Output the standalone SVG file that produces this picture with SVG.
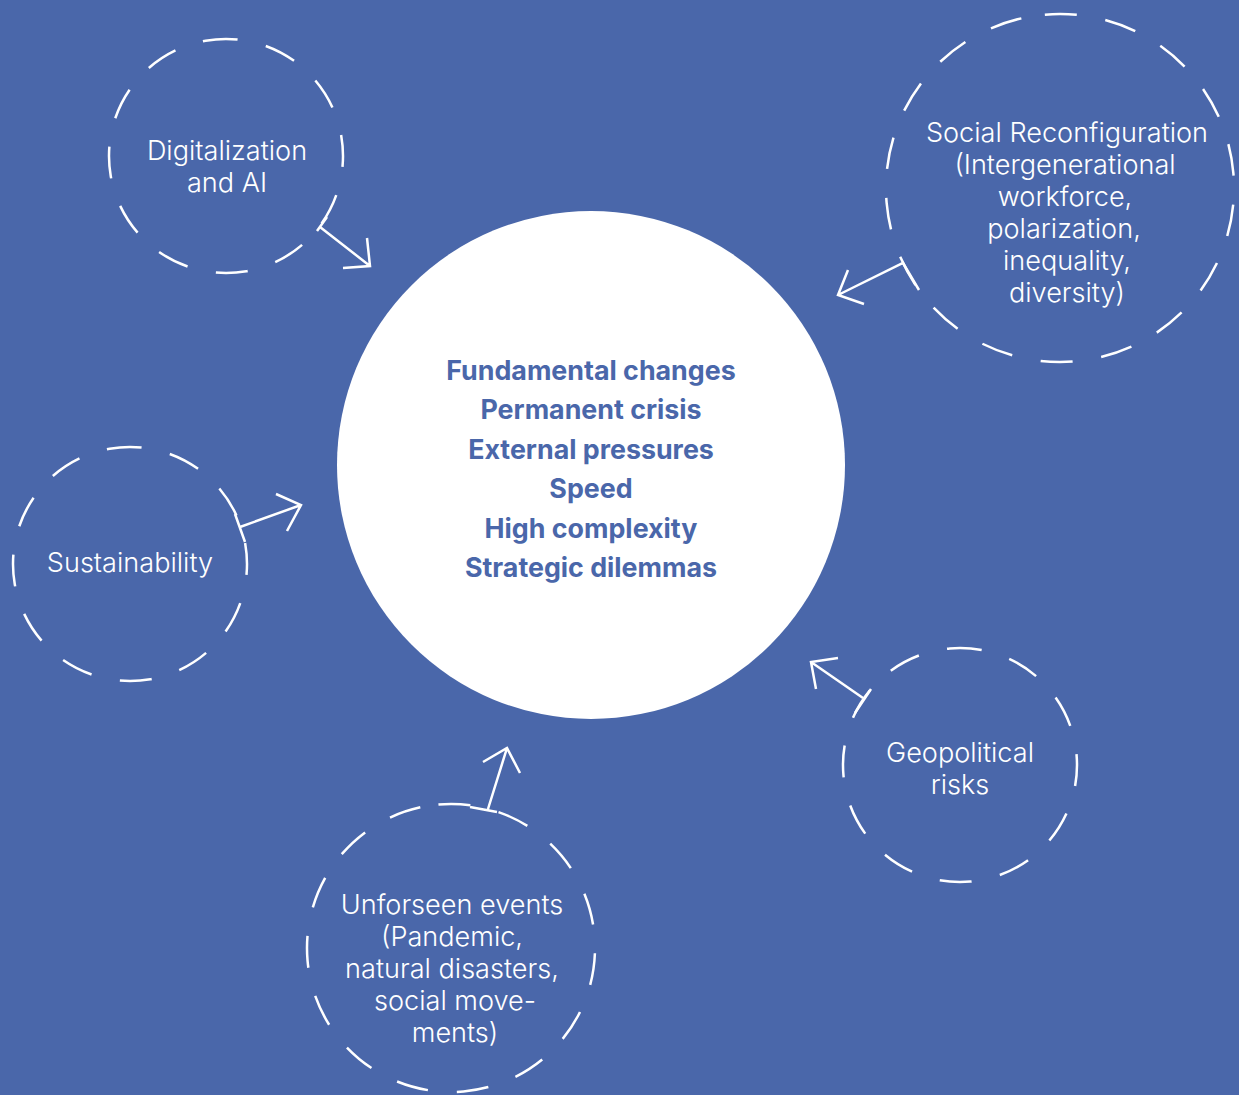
<svg xmlns="http://www.w3.org/2000/svg" width="1239" height="1095" viewBox="0 0 1239 1095">
<style>
.ring{fill:none;stroke:#fff;stroke-width:2.5;stroke-dasharray:32 29}
.lbl{fill:#fff;font-family:Inter,"Noto Sans",sans-serif;font-size:27.1px;font-weight:300;text-anchor:middle}
.core{fill:#4A67AA;font-family:Inter,"Noto Sans",sans-serif;font-size:26.8px;font-weight:700;text-anchor:middle}
.arr{fill:none;stroke:#fff;stroke-width:2.5;stroke-linecap:butt;stroke-linejoin:miter}
</style>
<rect width="1239" height="1095" fill="#4A67AA"/>
<g id="center">
<circle cx="591" cy="465" r="254" fill="#fff"/>
<text class="core" x="591" y="380">Fundamental changes</text>
<text class="core" x="591" y="419">Permanent crisis</text>
<text class="core" x="591" y="459">External pressures</text>
<text class="core" x="591" y="498">Speed</text>
<text class="core" x="591" y="538">High complexity</text>
<text class="core" x="591" y="577">Strategic dilemmas</text>
</g>
<g id="digitalization">
<circle class="ring" cx="226" cy="156" r="117" transform="rotate(-100 226 156)"/>
<text class="lbl" x="227" y="160">Digitalization</text>
<text class="lbl" x="227" y="192">and AI</text>
</g>
<g id="social">
<circle class="ring" cx="1060" cy="188" r="174" transform="rotate(-95 1060 188)"/>
<text class="lbl" x="1067" y="142">Social Reconfiguration</text>
<text class="lbl" x="1065" y="174">(Intergenerational</text>
<text class="lbl" x="1065" y="206">workforce,</text>
<text class="lbl" x="1064" y="238">polarization,</text>
<text class="lbl" x="1067" y="270">inequality,</text>
<text class="lbl" x="1067" y="302">diversity)</text>
</g>
<g id="sustainability">
<circle class="ring" cx="130" cy="564" r="117" transform="rotate(-100 130 564)"/>
<text class="lbl" x="130" y="572">Sustainability</text>
</g>
<g id="geopolitical">
<circle class="ring" cx="960" cy="765" r="117" transform="rotate(-95 960 765)"/>
<text class="lbl" x="960" y="762">Geopolitical</text>
<text class="lbl" x="960" y="794">risks</text>
</g>
<g id="unforseen">
<circle class="ring" cx="451" cy="948" r="144" transform="rotate(-95 451 948)"/>
<text class="lbl" x="452" y="914">Unforseen events</text>
<text class="lbl" x="452" y="946">(Pandemic,</text>
<text class="lbl" x="452" y="978">natural disasters,</text>
<text class="lbl" x="455" y="1010">social move-</text>
<text class="lbl" x="455" y="1042">ments)</text>
</g>
<g id="connectors">
<path class="arr" d="M327 217 L317 231 M320 227 L370 266 M367 238 L370 266 L343 268"/>
<path class="arr" d="M919 290 L903 263 L838 295 M864 304 L838 295 L848 270"/>
<path class="arr" d="M235 514 L245 542 M240 527 L301 505 M276 494 L301 505 L287 531"/>
<path class="arr" d="M871 689 L855 713 M863 698 L811 662 M838 658 L811 662 L816 689"/>
<path class="arr" d="M470 807 L497 812 M488 809 L507 748 M483 762 L507 748 L520 773"/>
</g>
</svg>
